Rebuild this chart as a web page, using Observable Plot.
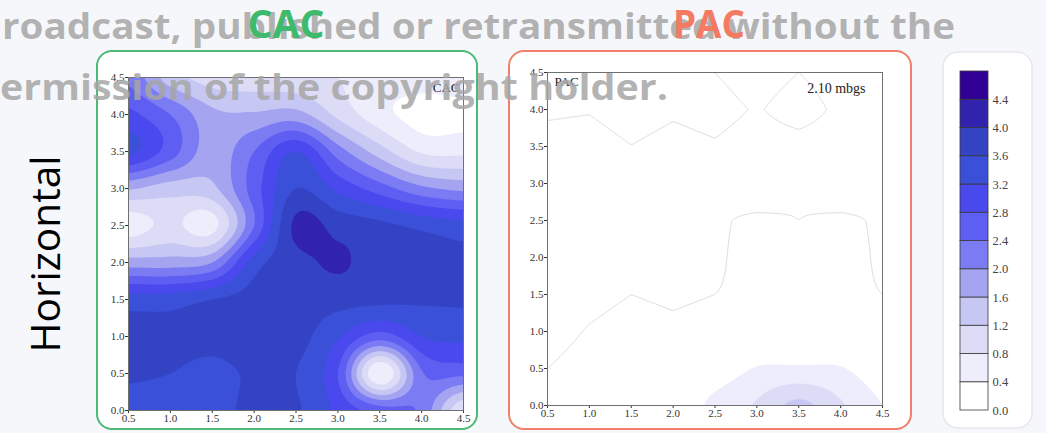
<!DOCTYPE html>
<html><head><meta charset="utf-8">
<script src="https://cdn.jsdelivr.net/npm/d3@7"></script>
<script src="https://cdn.jsdelivr.net/npm/@observablehq/plot@0.6"></script>
<style>
html,body{margin:0;padding:0;background:#f6f7fb;width:1046px;height:433px;overflow:hidden;}
#stage{position:relative;width:1046px;height:433px;}
#stage > *{position:absolute;}
</style></head><body><div id="stage"></div>
<script>
// ---- data ----
const xs = [0.5, 1.0, 1.5, 2.0, 2.5, 3.0, 3.5, 4.0, 4.5];
const ys = [4.5, 4.0, 3.5, 3.0, 2.5, 2.0, 1.5, 1.0, 0.5, 0.0]; // rows, top to bottom

const cacValues = [
  [2.3, 1.4, 1.05, 1.0, 0.95, 0.8, 0.6, 0.55, 0.6],
  [2.9, 2.4, 1.7, 1.65, 1.75, 1.1, 0.55, 0.25, 0.3],
  [3.3, 2.6, 1.8, 2.4, 3.2, 2.2, 1.4, 0.75, 0.7],
  [1.65, 1.4, 1.5, 2.6, 3.6, 3.1, 2.6, 2.1, 1.9],
  [0.6, 0.9, 0.65, 2.4, 4.1, 3.85, 3.7, 3.5, 3.35],
  [1.8, 1.8, 2.0, 3.4, 3.85, 4.05, 3.8, 3.75, 3.7],
  [3.4, 3.4, 3.6, 3.75, 3.8, 3.75, 3.7, 3.65, 3.65],
  [3.7, 3.7, 3.7, 3.8, 3.75, 3.25, 2.6, 3.2, 3.3],
  [3.65, 3.6, 3.5, 3.65, 3.6, 2.8, 0.4, 2.35, 2.5],
  [3.45, 3.4, 3.45, 3.7, 3.65, 3.1, 2.6, 2.3, 0.8]
];

const pacValues = [
  [0.15, 0.15, 0.15, 0.15, 0.05, -0.05, 0.05, -0.05, -0.05],
  [0.08, 0.064, 0.146, 0.082, 0.128, 0.03, 0.15, 0.0, -0.05],
  [-0.02, -0.036, 0.046, -0.018, 0.028, -0.05, -0.035, -0.05, -0.05],
  [-0.05, -0.05, -0.05, -0.05, -0.05, -0.5, -0.05, -0.5, -0.05],
  [-0.05, -0.05, -0.05, -0.05, -0.05, 0.2, 0.05, 0.2, -0.05],
  [-0.05, -0.05, -0.05, -0.05, -0.05, 0.3, 0.15, 0.3, -0.05],
  [-0.05, -0.03, 0.05, 0.006, 0.05, 0.15, 0.15, 0.15, 0.05],
  [-0.05, 0.07, 0.15, 0.106, 0.15, 0.15, 0.15, 0.15, 0.15],
  [0.05, 0.15, 0.15, 0.15, 0.2, 0.42, 0.45, 0.42, 0.2],
  [0.15, 0.15, 0.15, 0.15, 0.5, 0.85, 1.3, 0.85, 0.4]
];
const pacLineLevel = [0.05];

const levels = [0, 0.4, 0.8, 1.2, 1.6, 2.0, 2.4, 2.8, 3.2, 3.6, 4.0, 4.4];
const levelTop = 4.8;
const levelColors = ["#ffffff", "#ededfb", "#dcdcf7", "#c7c7f4", "#a4a4f1", "#7b7bf4",
                     "#5e5ef2", "#4949ee", "#3b50d8", "#3343c4", "#3223ae", "#300096"];
const xTicks = [0.5, 1.0, 1.5, 2.0, 2.5, 3.0, 3.5, 4.0, 4.5];
const yTicks = [0.0, 0.5, 1.0, 1.5, 2.0, 2.5, 3.0, 3.5, 4.0, 4.5];

// ---- surface through the grid: Catmull-Rom (smooth) or bilinear ----
function surface(rows, smooth = true) {
  const nx = xs.length, ny = ys.length;
  const dx = xs[1] - xs[0], dy = ys[0] - ys[1];
  const v = (i, j) => rows[Math.max(0, Math.min(ny - 1, j))][Math.max(0, Math.min(nx - 1, i))];
  const cr = (p0, p1, p2, p3, t) => smooth
    ? 0.5 * (2 * p1 + (p2 - p0) * t + (2 * p0 - 5 * p1 + 4 * p2 - p3) * t * t + (3 * p1 - p0 - 3 * p2 + p3) * t * t * t)
    : p1 + (p2 - p1) * t;
  return (x, y) => {
    const fx = (x - xs[0]) / dx, fy = (ys[0] - y) / dy;
    const i = Math.min(nx - 2, Math.max(0, Math.floor(fx)));
    const j = Math.min(ny - 2, Math.max(0, Math.floor(fy)));
    const tx = fx - i, ty = fy - j;
    const row = k => cr(v(i - 1, k), v(i, k), v(i + 1, k), v(i + 2, k), tx);
    return cr(row(j - 1), row(j), row(j + 1), row(j + 2), ty);
  };
}

const serif = "'Liberation Serif', 'Times New Roman', serif";
const colorScale = {type: "threshold", domain: levels.slice(1), range: levelColors};
const extent = {x1: xs[0], x2: xs[xs.length - 1], y1: ys[ys.length - 1], y2: ys[0]};

function panel(opts, marks) {
  return Plot.plot({
    ...opts,
    style: {background: "transparent", fontFamily: serif, fontSize: "11px", color: "#333"},
    x: {domain: [extent.x1, extent.x2], ticks: xTicks, tickFormat: ".1f", tickSize: 3, tickPadding: 1, label: null},
    y: {domain: [extent.y1, extent.y2], ticks: yTicks, tickFormat: ".1f", tickSize: 3, tickPadding: 1, label: null},
    color: colorScale,
    marks
  });
}

const stage = document.getElementById("stage");
const NS = "http://www.w3.org/2000/svg";
function svgLayer() {
  const s = document.createElementNS(NS, "svg");
  s.setAttribute("width", 1046); s.setAttribute("height", 433);
  s.style.left = "0px"; s.style.top = "0px"; s.style.pointerEvents = "none";
  return s;
}
function el(parent, tag, attrs, text) {
  const e = document.createElementNS(NS, tag);
  for (const k in attrs) e.setAttribute(k, attrs[k]);
  if (text != null) e.textContent = text;
  parent.appendChild(e);
  return e;
}

// background: cards and row label
const bg = svgLayer();
el(bg, "rect", {x: 97, y: 51, width: 380, height: 378, rx: 15, fill: "#fff", stroke: "#4cba74", "stroke-width": 2});
el(bg, "rect", {x: 509, y: 51, width: 402, height: 378, rx: 15, fill: "#fff", stroke: "#f27e6c", "stroke-width": 2});
el(bg, "rect", {x: 943, y: 52, width: 89, height: 376, rx: 15, fill: "#fff", stroke: "#e6e8ee", "stroke-width": 1.5});
el(bg, "text", {transform: "translate(60,254) rotate(-90)", "text-anchor": "middle", "font-family": "'Open Sans', sans-serif",
  "font-size": 40, fill: "#000", textLength: 197, lengthAdjust: "spacingAndGlyphs"}, "Horizontal");
stage.appendChild(bg);

// CAC panel
const cac = panel({width: 375, height: 362, marginLeft: 28, marginRight: 12, marginTop: 11, marginBottom: 18}, [
  Plot.contour({...extent, fill: surface(cacValues), thresholds: levels, stroke: "none"}),
  Plot.frame({stroke: "#707070"}),
  Plot.text(["CAC"], {text: d => d, frameAnchor: "top-right", dx: -4, dy: 5, fontSize: 13, fill: "#222"})
]);
cac.style.left = "100px"; cac.style.top = "66px";
stage.appendChild(cac);

// PAC panel
const pac = panel({width: 390, height: 365, marginLeft: 35, marginRight: 20, marginTop: 12, marginBottom: 20}, [
  Plot.contour({...extent, fill: surface(pacValues), thresholds: levels.slice(1), stroke: "none"}),
  Plot.contour({...extent, value: surface(pacValues, false), thresholds: pacLineLevel, fill: "none", stroke: "#dedede", strokeWidth: 1}),
  Plot.frame({stroke: "#707070"}),
  Plot.text(["PAC"], {text: d => d, frameAnchor: "top-left", dx: 7, dy: 4, fontSize: 13, fill: "#222"}),
  Plot.text(["2.10 mbgs"], {text: d => d, frameAnchor: "top-right", dx: -17, dy: 11, fontSize: 14, fill: "#222"})
]);
pac.style.left = "512px"; pac.style.top = "60px";
stage.appendChild(pac);

// colour bar
const bands = levels.map((lo, i) => ({lo, hi: i + 1 < levels.length ? levels[i + 1] : levelTop}));
const bar = Plot.plot({
  width: 80, height: 360, marginLeft: 10, marginRight: 42, marginTop: 11, marginBottom: 10,
  style: {background: "transparent", fontFamily: serif, fontSize: "12.5px", color: "#444"},
  x: {domain: [0, 1], axis: null},
  y: {domain: [0, levelTop], axis: "right", ticks: levels, tickFormat: ".1f", tickSize: 0, tickPadding: 4, label: null},
  color: colorScale,
  marks: [Plot.rect(bands, {x1: 0, x2: 1, y1: "lo", y2: "hi", fill: "lo", stroke: "#3a3a3a", strokeWidth: 0.8})]
});
bar.style.left = "950px"; bar.style.top = "60px";
stage.appendChild(bar);

// watermark
const wm = svgLayer();
const wmAttrs = {"font-family": "'Open Sans', sans-serif", "font-weight": 700, "font-size": 35, fill: "#a6a6a6", "fill-opacity": 0.85, lengthAdjust: "spacingAndGlyphs"};
el(wm, "text", {...wmAttrs, x: 2, y: 39, textLength: 953}, "roadcast, published or retransmitted without the");
el(wm, "text", {...wmAttrs, x: 0, y: 100, textLength: 668}, "ermission of the copyright holder.");
stage.appendChild(wm);

// panel titles
const titles = svgLayer();
const tAttrs = {"text-anchor": "middle", "font-family": "'Open Sans', sans-serif", "font-weight": 700, "font-size": 40, lengthAdjust: "spacingAndGlyphs"};
el(titles, "text", {...tAttrs, x: 286, y: 38, fill: "#3dba6c", textLength: 77}, "CAC");
el(titles, "text", {...tAttrs, x: 709, y: 38, fill: "#f47a63", textLength: 72}, "PAC");
stage.appendChild(titles);
</script>
</body></html>
